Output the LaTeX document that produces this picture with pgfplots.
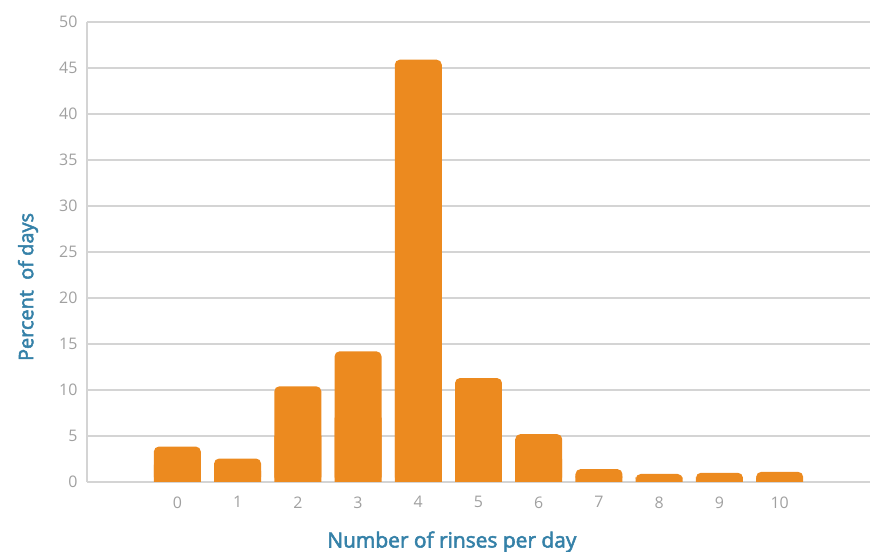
\documentclass[border=0pt]{standalone}
\usepackage{pgfplots}
\pgfplotsset{compat=1.18}
\usepackage{fontspec}
\setmainfont{Open Sans}
\newfontfamily\labelfont[FakeBold=2.6]{Open Sans}
\definecolor{barorange}{HTML}{EC8A1F}
\definecolor{gridgrey}{HTML}{D4D4D4}
\definecolor{ticktext}{HTML}{A0A0A0}
\definecolor{labelblue}{HTML}{3581A8}
\begin{document}
\begin{tikzpicture}[x=1bp,y=1bp]
\path[use as bounding box] (-87,-70) rectangle (783,482);
\begin{axis}[
  at={(0,0)}, anchor=south west,
  scale only axis, width=783bp, height=460bp,
  xmin=-1.5, xmax=11.5, ymin=0, ymax=50,
  ytick={0,5,...,50},
  xtick={0,1,...,10},
  axis x line=bottom, axis y line=left,
  axis line style={-, draw=gridgrey, line width=1.2bp},
  ymajorgrids, grid style={draw=gridgrey, line width=1.2bp},
  major tick length=0pt,
  ytick style={draw=none}, xtick style={draw=none},
  tick label style={font=\fontsize{16}{19}\selectfont, text=ticktext},
  yticklabel style={xshift=-6bp},
  xticklabel style={yshift=-11bp},
  /pgf/number format/assume math mode=true,
  every axis y label/.style={at={(rel axis cs:0,0.424)}, xshift=-59bp, anchor=center, rotate=90, font=\labelfont\fontsize{20}{23}\selectfont},
  every axis x label/.style={at={(rel axis cs:0.466,0)}, yshift=-60bp, anchor=center, font=\labelfont\fontsize{21}{24}\selectfont},
  label style={text=labelblue},
  ylabel={Percent\ \ of days},
  xlabel={Number of rinses per day},
]
\addplot[ybar, bar width=0.78, bar shift=0pt, fill=barorange, draw=none, rounded corners=5bp]
coordinates {(0,3.85) (1,2.55) (2,10.4) (3,14.2) (4,45.9) (5,11.3) (6,5.2) (7,1.4) (8,0.87) (9,1.0) (10,1.1)};
\addplot[ybar, bar width=0.78, bar shift=0pt, fill=barorange, draw=none]
coordinates {(0,1.9) (1,1.2) (2,5) (3,7) (4,20) (5,5) (6,2.5) (7,0.6) (8,0.4) (9,0.45) (10,0.5)};
\end{axis}
\end{tikzpicture}
\end{document}
